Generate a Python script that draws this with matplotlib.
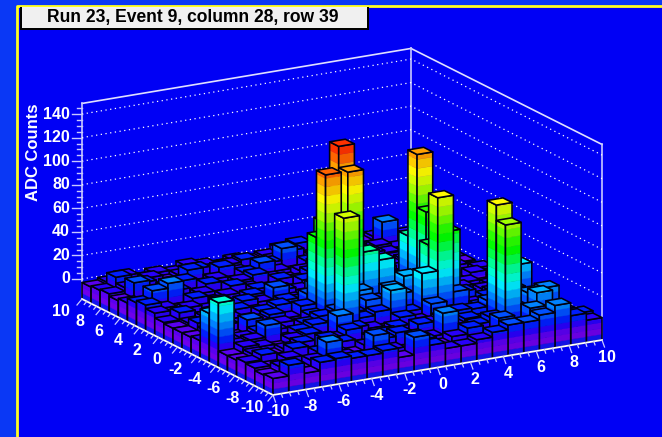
import numpy as np
import matplotlib
matplotlib.use('Agg')
from matplotlib import pyplot as plt
from matplotlib.collections import PolyCollection
from matplotlib.patches import Rectangle

plt.rcParams['font.family'] = ['Liberation Sans', 'DejaVu Sans']

title = 'Run 23, Event 9, column 28, row 39'
z_label = 'ADC Counts'
x_ticks = [-10, -8, -6, -4, -2, 0, 2, 4, 6, 8, 10]
y_ticks = [-10, -8, -6, -4, -2, 0, 2, 4, 6, 8, 10]
z_ticks = [0, 20, 40, 60, 80, 100, 120, 140]

# one row per y bin (front to back), one value per x bin
adc = [
    [-3, 6, -3, 4, 5, 3, 3, 5, -3, 12, 3, -2, -2, 1, 5, 9, 9, 13, 19, 8, 2],
    [-4, 1, -3, 2, 15, 1, -2, 14, 0, -3, 4, -3, 2, 7, -3, 11, 2, 15, 3, -3, 4],
    [-2, -3, 2, -4, 3, 0, -3, 2, 5, 8, 3, 0, 18, -3, 4, 8, 84, 5, 22, 7, -2],
    [-1, 3, -3, 4, -2, 8, 3, -3, 2, 4, -3, 7, 0, 2, 5, 2, 97, 8, 18, 20, -1],
    [-3, 0, -3, 0, 3, -2, 2, 7, -3, 0, 3, -3, 2, 4, 8, 7, 12, 4, 6, 2, -3],
    [-3, 2, 0, -3, 2, 4, -2, 15, 3, 0, -3, 5, 0, 12, 3, -3, 4, 0, 14, 2, 0],
    [38, 0, 2, 12, -2, 3, 6, 2, 92, 5, 8, 24, 4, 34, 96, 14, 2, 6, 2, 28, 0],
    [25, -3, 0, 3, 2, -3, 3, 7, 10, 6, 14, 4, 15, 7, 52, 61, 8, 0, 4, 12, -2],
    [-2, 2, -3, 9, 0, 2, -2, 4, 121, 8, 18, 8, 16, 24, 12, 20, 3, -3, 2, 5, -3],
    [-3, 0, 3, -2, 2, 5, 0, 8, 64, 14, 115, 45, 36, 16, 18, 70, 4, 2, -3, 0, 2],
    [-3, 3, -3, 2, -1, 4, 7, 2, 12, 71, 133, 20, 12, 14, 10, 115, 5, -3, 0, -4, 0],
    [-3, -1, 2, -3, 4, 0, -2, 5, 3, 14, 10, 14, 6, 3, 4, 42, 2, 0, -4, 2, -2],
    [-2, 4, -3, 0, -3, 5, 2, 12, 0, -3, 6, 3, 2, 4, -2, 4, 0, -4, -2, -5, 0],
    [2, -3, 2, -2, 3, -3, 4, 0, 4, 2, -2, 5, 0, -3, 2, 0, -4, 2, -3, 0, -4],
    [5, 0, -3, 4, -1, 2, -3, 3, 0, -3, 4, 0, 2, 4, -3, 3, 0, -4, -2, 2, -3],
    [3, 11, 15, -2, 2, -3, 4, 0, -3, 3, 0, 5, -3, 2, 4, -3, 0, 2, -4, 0, -3],
    [-1, -3, 0, 3, -3, 4, -2, 2, 5, 0, -3, 2, 6, -1, 0, 3, -3, -1, 2, -4, -2],
    [-3, 10, -2, 2, 5, -1, 2, -3, 3, 9, 0, -3, 4, 2, -2, -4, 2, 0, -3, 0, -4],
    [-1, 2, 4, -3, 0, 8, -3, 6, 0, -2, 3, 13, -1, 2, 4, 0, -4, 2, -2, -3, 0],
    [-2, 7, -1, 2, -3, 0, 3, -3, 2, 4, -3, 0, 5, -2, -3, 3, 0, -3, 16, -2, -4],
    [-3, -1, 2, -3, 0, -2, 2, 0, -3, 0, -3, -1, 3, 5, -3, -2, 2, -3, 0, -4, -2],
]

# colour bands of the lego: lower edge of each band and its colour
band_edges = [-17, -12, -7, -2, 3, 9, 15, 21, 28, 35, 42, 50, 58, 65, 73, 80, 88, 95.6, 103, 110.7, 118, 126, 133.6]
band_colors = [(20, 20, 240), (110, 0, 235), (90, 0, 240), (40, 0, 250), (0, 30, 255), (0, 80, 255), (0, 130, 255),
               (0, 180, 255), (0, 235, 255), (0, 255, 210), (0, 255, 150), (0, 255, 70), (0, 255, 0), (40, 255, 0),
               (100, 255, 0), (160, 255, 0), (210, 255, 0), (255, 250, 0), (255, 205, 0), (255, 160, 0), (255, 100, 0),
               (255, 50, 0), (255, 0, 0)]

z_min, z_max = -17, 149
origin = np.array([273.0, 395.0])
x_vec = np.array([16.45, -2.75])   # pixels per x unit
y_vec = np.array([-9.55, -4.8])    # pixels per y unit
z_scale = 1.178                    # pixels per count


def project(x, y, z):
    p = origin + (x + 10) * x_vec + (y + 10) * y_vec
    return (p[0], p[1] - (z - z_min) * z_scale)


def band_color(z, shade=1.0):
    i = np.searchsorted(band_edges, z, side='right') - 1
    i = max(i, 0)
    return tuple(c * shade / 255 for c in band_colors[i])


def side_polys(p0, p1, top):
    # vertical face between two ground points, cut into colour bands
    levels = [z_min] + [e for e in band_edges if z_min < e < top] + [top]
    out = []
    for lo, hi in zip(levels[:-1], levels[1:]):
        out.append(([project(*p0, lo), project(*p1, lo), project(*p1, hi), project(*p0, hi)], lo))
    return out


fig = plt.figure(figsize=(6.62, 4.37), dpi=100, facecolor='#0a2cf0')
ax = fig.add_axes([0, 0, 1, 1])
ax.set_xlim(0, 662)
ax.set_ylim(437, 0)
ax.axis('off')

# canvas and frame
ax.add_patch(Rectangle((0, 0), 662, 437, fc='#0a38f5', ec='none'))
ax.add_patch(Rectangle((17, 6), 645, 431, fc='#0000f5', ec='none'))
ax.plot([16.5, 16.5, 662], [437, 5.5, 5.5], color='#ffff20', lw=2, solid_capstyle='butt')

# back walls
line_c = '#c8c8ff'
ax.plot(*zip(project(-10, 10, z_max), project(10, 10, z_max)), color='#e0e0ff', lw=1.2)
ax.plot(*zip(project(10, -10, z_max), project(10, 10, z_max)), color='#e0e0ff', lw=1.2)
for x, y in [(-10, 10), (10, 10), (10, -10)]:
    ax.plot(*zip(project(x, y, z_min), project(x, y, z_max)), color=line_c, lw=1.2)
for z in z_ticks:
    pts = [project(-10, 10, z), project(10, 10, z), project(10, -10, z)]
    ax.plot(*zip(*pts), color='white', lw=0.9, ls=(0, (1, 2.8)))

# bars, painted from the back corner to the front one
edges = np.linspace(-10, 10, 22)
n = len(edges) - 1
polys, faces, lines, widths = [], [], [], []
for j in range(n - 1, -1, -1):
    for i in range(n - 1, -1, -1):
        z = adc[j][i]
        x0, x1 = edges[i], edges[i + 1]
        y0, y1 = edges[j], edges[j + 1]
        for p0, p1, shade in [((x0, y1), (x0, y0), 1.0), ((x0, y0), (x1, y0), 0.95)]:
            for poly, lo in side_polys(p0, p1, z):
                c = band_color(lo, shade)
                polys.append(poly); faces.append(c); lines.append(c); widths.append(0.3)
            polys.append([project(*p0, z_min), project(*p1, z_min), project(*p1, z), project(*p0, z)])
            faces.append((0, 0, 0, 0)); lines.append('#000010'); widths.append(1.15)
        polys.append([project(x0, y0, z), project(x1, y0, z), project(x1, y1, z), project(x0, y1, z)])
        faces.append(band_color(z)); lines.append('#000010'); widths.append(1.15)
ax.add_collection(PolyCollection(polys, facecolors=faces, edgecolors=lines, linewidths=widths, zorder=3))

# z axis
for z in np.arange(0, 146, 5):
    px, py = project(-10, 10, z)
    size = 10 if z in z_ticks else 5
    ax.plot([px - size, px], [py, py], color=line_c, lw=1, zorder=4)
for z in z_ticks:
    px, py = project(-10, 10, z)
    ax.text(px - 12, py, str(z), color='white', fontsize=11.5, fontweight='bold', ha='right', va='center', zorder=5)
ax.text(33, 152, z_label, color='white', fontsize=12, fontweight='bold', rotation=90, ha='center', va='center')

# x axis along the front right edge
ax.plot(*zip(project(-10, -10, z_min), project(10, -10, z_min)), color='white', lw=1.3, zorder=4)
for v in np.arange(-10, 10.1, 0.5):
    px, py = project(v, -10, z_min)
    k = 1.0 if v in x_ticks else 0.5
    ax.plot([px, px + 2.5 * k], [py, py + 7 * k], color=line_c, lw=0.9, zorder=4)
for v in x_ticks:
    px, py = project(v, -10, z_min)
    ax.text(px + 5, py + 17, str(v), color='white', fontsize=11.5, fontweight='bold', ha='center', va='center', zorder=5)

# y axis along the front left edge
ax.plot(*zip(project(-10, -10, z_min), project(-10, 10, z_min)), color='white', lw=1.3, zorder=4)
for v in np.arange(-10, 10.1, 0.5):
    px, py = project(-10, v, z_min)
    k = 1.0 if v in y_ticks else 0.5
    ax.plot([px, px - 5 * k], [py, py + 6 * k], color=line_c, lw=0.9, zorder=4)
for v in y_ticks:
    px, py = project(-10, v, z_min)
    ax.text(px - 21, py + 13, str(v), color='white', fontsize=11.5, fontweight='bold', ha='center', va='center', zorder=5)

# title box with its shadow
ax.add_patch(Rectangle((20, 7), 349, 23, fc='black', ec='none', zorder=6))
ax.add_patch(Rectangle((22, 7), 345, 21, fc='#f0f0f0', ec='none', zorder=7))
ax.text(192.5, 17.5, title, color='black', fontsize=12.65, fontweight='bold', ha='center', va='center', zorder=8)

fig.savefig('out.png', dpi=100, facecolor=fig.get_facecolor())
